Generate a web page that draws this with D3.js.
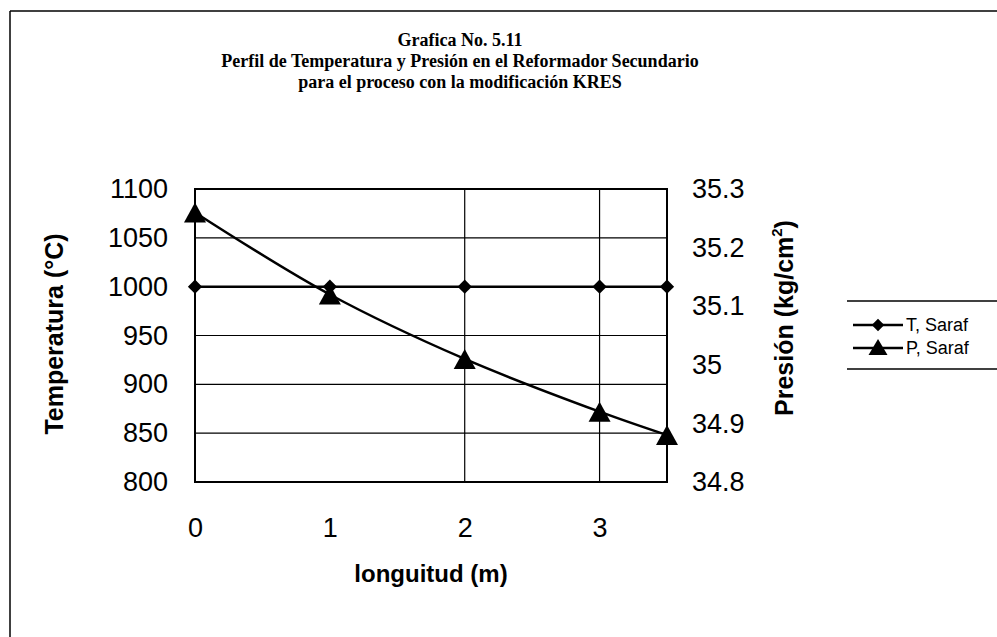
<!DOCTYPE html>
<html>
<head>
<meta charset="utf-8">
<script src="https://cdn.jsdelivr.net/npm/d3@7"></script>
<style>
  html, body { margin: 0; padding: 0; background: #fff; }
  svg { display: block; }
</style>
</head>
<body>
<svg id="chart" width="997" height="637"></svg>
<script>
// ---- data ----
const titleLines = [
  "Grafica No. 5.11",
  "Perfil de Temperatura y Presión en el Reformador Secundario",
  "para el proceso con la modificación KRES"
];
const longitud = [0, 1, 2, 3, 3.5];
const tempSaraf = [1000, 1000, 1000, 1000, 1000];
const presSaraf = [35.26, 35.12, 35.01, 34.92, 34.88];
const xTicks = [0, 1, 2, 3];
const xGrid = [2, 3];
const tempTicks = [800, 850, 900, 950, 1000, 1050, 1100];
const presTicks = [34.8, 34.9, 35.0, 35.1, 35.2, 35.3];
const seriesNames = ["T, Saraf", "P, Saraf"];
const xTitle = "longuitud (m)";
const yTitleLeft = "Temperatura (°C)";
const yTitleRight = "Presión (kg/cm";

// ---- layout ----
const svg = d3.select("#chart");
const plot = { left: 195, right: 667, top: 189, bottom: 482 };

const x = d3.scaleLinear().domain([0, 3.5]).range([plot.left, plot.right]);
const yT = d3.scaleLinear().domain([800, 1100]).range([plot.bottom, plot.top]);
const yP = d3.scaleLinear().domain([34.8, 35.3]).range([plot.bottom, plot.top]);

// chart area border (top + left only, as in scan)
svg.append("line").attr("x1", 10).attr("x2", 997).attr("y1", 11).attr("y2", 11)
  .attr("stroke", "#000").attr("stroke-width", 1.5);
svg.append("line").attr("x1", 10).attr("x2", 10).attr("y1", 11).attr("y2", 637)
  .attr("stroke", "#000").attr("stroke-width", 1.5);

// title
const title = svg.append("g")
  .attr("font-family", "'Liberation Serif', 'Times New Roman', serif")
  .attr("font-weight", "bold").attr("font-size", 18).attr("text-anchor", "middle");
titleLines.forEach((t, i) => {
  title.append("text").attr("x", 460).attr("y", 46 + i * 21).text(t);
});

// gridlines
const grid = svg.append("g").attr("stroke", "#000").attr("stroke-width", 1.2);
grid.selectAll("line.h").data(tempTicks.slice(1, -1)).join("line")
  .attr("x1", plot.left).attr("x2", plot.right)
  .attr("y1", d => yT(d)).attr("y2", d => yT(d));
grid.selectAll("line.v").data(xGrid).join("line")
  .attr("x1", d => x(d)).attr("x2", d => x(d))
  .attr("y1", plot.top).attr("y2", plot.bottom);

// plot border
svg.append("rect").attr("x", plot.left).attr("y", plot.top)
  .attr("width", plot.right - plot.left).attr("height", plot.bottom - plot.top)
  .attr("fill", "none").attr("stroke", "#000").attr("stroke-width", 2);

// axes
const tickFont = "Arial, 'Liberation Sans', sans-serif";
const axL = svg.append("g").attr("transform", `translate(${plot.left},0)`)
  .call(d3.axisLeft(yT).tickValues(tempTicks).tickSize(0).tickPadding(27).tickFormat(d3.format("d")));
const axR = svg.append("g").attr("transform", `translate(${plot.right},0)`)
  .call(d3.axisRight(yP).tickValues(presTicks).tickSize(0).tickPadding(25)
    .tickFormat(d => d === 35 ? "35" : d3.format(".1f")(d)));
const axB = svg.append("g").attr("transform", `translate(0,${plot.bottom})`)
  .call(d3.axisBottom(x).tickValues(xTicks).tickSize(0).tickPadding(36).tickFormat(d3.format("d")));
[axL, axR, axB].forEach(a => {
  a.select(".domain").remove();
  a.selectAll("text").attr("font-family", tickFont).attr("font-size", 27).attr("fill", "#000");
});

// axis titles
svg.append("text").attr("x", x(1.75)).attr("y", 582).attr("text-anchor", "middle")
  .attr("font-family", tickFont).attr("font-weight", "bold").attr("font-size", 24)
  .text(xTitle);
svg.append("text").attr("transform", `translate(63,334) rotate(-90)`)
  .attr("text-anchor", "middle")
  .attr("font-family", tickFont).attr("font-weight", "bold").attr("font-size", 25)
  .text(yTitleLeft);
const rt = svg.append("text").attr("transform", `translate(793,318) rotate(-90)`)
  .attr("text-anchor", "middle")
  .attr("font-family", tickFont).attr("font-weight", "bold").attr("font-size", 25);
rt.append("tspan").text(yTitleRight);
rt.append("tspan").attr("font-size", 15).attr("dy", -11).text("2");
rt.append("tspan").attr("dy", 11).text(")");

// series
const ptsT = longitud.map((d, i) => [d, tempSaraf[i]]);
const ptsP = longitud.map((d, i) => [d, presSaraf[i]]);

svg.append("path")
  .attr("d", d3.line().x(d => x(d[0])).y(d => yT(d[1]))(ptsT))
  .attr("fill", "none").attr("stroke", "#000").attr("stroke-width", 2.5);
svg.append("path")
  .attr("d", d3.line().curve(d3.curveCatmullRom).x(d => x(d[0])).y(d => yP(d[1]))(ptsP))
  .attr("fill", "none").attr("stroke", "#000").attr("stroke-width", 2.5);

const diamond = d3.symbol().type(d3.symbolDiamond2).size(130);
const tri = (cx, cy, w, h) => `M${cx},${cy - h / 2}L${cx + w / 2},${cy + h / 2}L${cx - w / 2},${cy + h / 2}Z`;

svg.append("g").selectAll("path").data(ptsT).join("path")
  .attr("transform", d => `translate(${x(d[0])},${yT(d[1])})`)
  .attr("d", diamond).attr("fill", "#000");
svg.append("g").selectAll("path").data(ptsP).join("path")
  .attr("d", d => tri(x(d[0]), yP(d[1]), 22, 20)).attr("fill", "#000");

// legend
const lg = svg.append("g");
lg.append("line").attr("x1", 847).attr("x2", 997).attr("y1", 301).attr("y2", 301)
  .attr("stroke", "#000").attr("stroke-width", 1.5);
lg.append("line").attr("x1", 847).attr("x2", 997).attr("y1", 369).attr("y2", 369)
  .attr("stroke", "#000").attr("stroke-width", 1.5);
seriesNames.forEach((name, i) => {
  const cy = 325 + i * 23;
  lg.append("line").attr("x1", 853).attr("x2", 903).attr("y1", cy).attr("y2", cy)
    .attr("stroke", "#000").attr("stroke-width", 2.5);
  if (i === 0) {
    lg.append("path").attr("transform", `translate(878,${cy})`)
      .attr("d", d3.symbol().type(d3.symbolDiamond2).size(100)).attr("fill", "#000");
  } else {
    lg.append("path").attr("d", tri(878, cy - 1, 19, 16)).attr("fill", "#000");
  }
  lg.append("text").attr("x", 906).attr("y", cy + 6)
    .attr("font-family", tickFont).attr("font-size", 18).text(name);
});
</script>
</body>
</html>
